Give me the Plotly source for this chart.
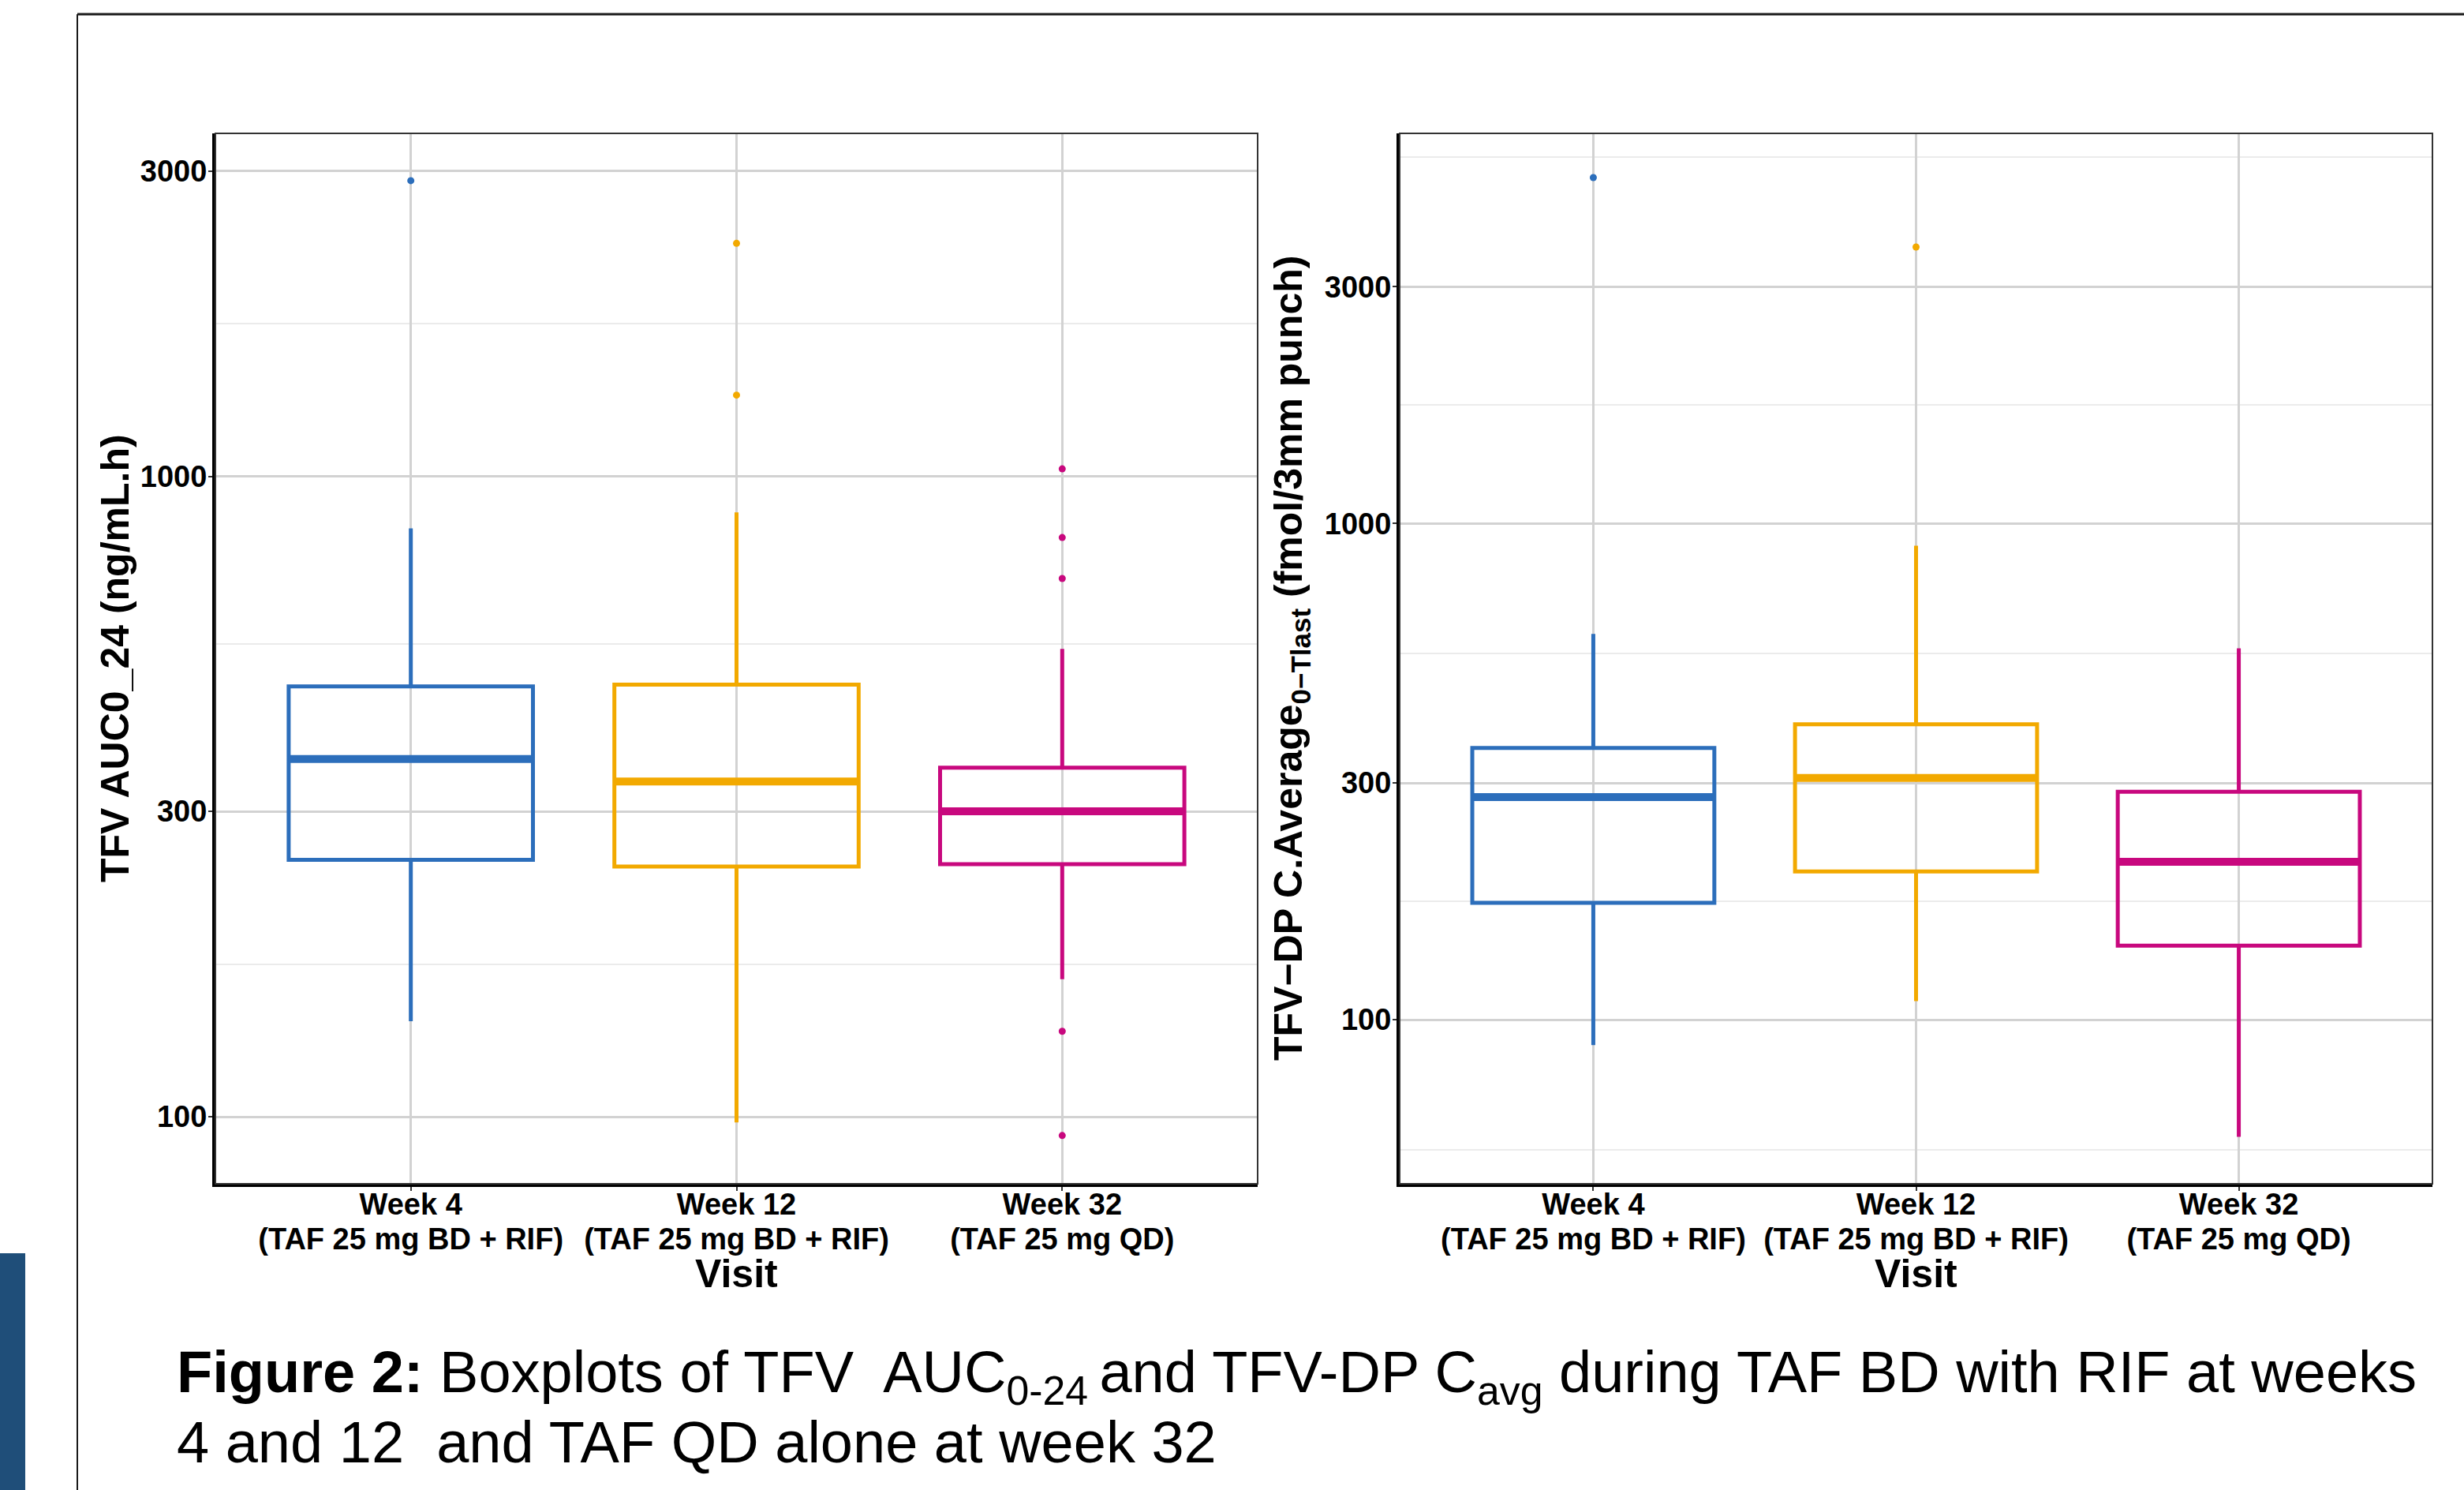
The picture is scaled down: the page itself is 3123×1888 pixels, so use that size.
import plotly.graph_objects as go

# ---------------- data ----------------
visit_weeks = ["Week 4", "Week 12", "Week 32"]
visit_regimens = ["(TAF 25 mg BD + RIF)", "(TAF 25 mg BD + RIF)", "(TAF 25 mg QD)"]
colors = ["#2C6EBB", "#F2A900", "#C8087E"]

# Left panel: TFV AUC0_24 (ng/mL.h)
auc_low = [141, 98, 164]
auc_q1 = [252, 246, 248]
auc_med = [362, 334, 300]
auc_q3 = [470, 473, 351]
auc_high = [830, 879, 538]
auc_outliers = [[2898], [2313, 1340], [1028, 803, 693, 136, 93.5]]

# Right panel: TFV-DP C.Average (fmol/3mm punch)
cavg_low = [88.9, 109, 58.1]
cavg_q1 = [172, 199, 141]
cavg_med = [281, 307, 208]
cavg_q3 = [353, 394, 288]
cavg_high = [599, 902, 560]
cavg_outliers = [[4977], [3606], []]

y_ticks = [100, 300, 1000, 3000]
y_ticklabels = ["100", "300", "1000", "3000"]
minor_ticks = [54.77, 173.2, 547.7, 1732, 5477]

W, H = 3123, 1888
FONT = "Liberation Sans, Arial, Helvetica, sans-serif"

fig = go.Figure()

BOXW = 0.75


def add_panel(xa, ya, low, q1, med, q3, high, outl):
    for i in range(3):
        xpos = i + 1
        fig.add_trace(go.Box(
            x=[xpos], q1=[q1[i]], median=[med[i]], q3=[q3[i]],
            lowerfence=[low[i]], upperfence=[high[i]],
            width=BOXW, boxpoints=False, whiskerwidth=0,
            line=dict(color=colors[i], width=5),
            fillcolor="rgba(0,0,0,0)",
            xaxis=xa, yaxis=ya, showlegend=False, hoverinfo="skip",
        ))
        fig.add_trace(go.Scatter(
            x=[xpos - BOXW / 2, xpos + BOXW / 2], y=[med[i], med[i]],
            mode="lines", line=dict(color=colors[i], width=10),
            xaxis=xa, yaxis=ya, showlegend=False, hoverinfo="skip",
        ))
        if outl[i]:
            fig.add_trace(go.Scatter(
                x=[xpos] * len(outl[i]), y=outl[i], mode="markers",
                marker=dict(color=colors[i], size=9),
                xaxis=xa, yaxis=ya, showlegend=False, hoverinfo="skip",
            ))


add_panel("x", "y", auc_low, auc_q1, auc_med, auc_q3, auc_high, auc_outliers)
add_panel("x2", "y2", cavg_low, cavg_q1, cavg_med, cavg_q3, cavg_high, cavg_outliers)

# invisible anchors for the second-line tick label axes
for xa, ya in [("x3", "y"), ("x4", "y2")]:
    fig.add_trace(go.Scatter(x=[1, 2, 3], y=[300, 300, 300], mode="markers",
                             marker=dict(opacity=0), xaxis=xa, yaxis=ya,
                             showlegend=False, hoverinfo="skip"))

ydom = [1 - 1500 / H, 1 - 169 / H]
xdom1 = [273 / W, 1594 / W]
xdom2 = [1774 / W, 3083 / W]

tick_font_x = dict(family=FONT, size=38, color="black", weight="bold")

common_x = dict(
    tickmode="array", tickvals=[1, 2, 3], ticktext=visit_weeks, range=[0.4, 3.6],
    showgrid=True, gridcolor="#D2D2D2", gridwidth=3, zeroline=False,
    showline=True, linecolor="black", linewidth=4,
    ticks="outside", ticklen=5, tickwidth=2, tickcolor="#333333",
    ticklabelstandoff=-16,
    tickfont=tick_font_x,
)
second_x = dict(
    tickmode="array", tickvals=[1, 2, 3], ticktext=visit_regimens, range=[0.4, 3.6],
    showgrid=False, zeroline=False, showline=False, ticks="",
    side="bottom", ticklabelstandoff=44,
    tickfont=tick_font_x,
)
common_y = dict(
    type="log", tickmode="array", tickvals=y_ticks, ticktext=y_ticklabels,
    showgrid=True, gridcolor="#D2D2D2", gridwidth=3, zeroline=False,
    showline=True, linecolor="black", linewidth=4,
    ticks="outside", ticklen=5, tickwidth=2, tickcolor="#333333",
    ticklabelstandoff=-6,
    tickfont=dict(family=FONT, size=38, color="black", weight="bold"),
    minor=dict(tickmode="array", tickvals=minor_ticks, showgrid=True,
               gridcolor="#EBEBEB", gridwidth=2, ticks=""),
)

fig.update_layout(
    width=W, height=H, autosize=False,
    margin=dict(l=0, r=0, t=0, b=0),
    paper_bgcolor="white", plot_bgcolor="white",
    boxmode="overlay", showlegend=False,
    xaxis=dict(domain=xdom1, anchor="y", **common_x),
    yaxis=dict(domain=ydom, anchor="x", range=[1.8954, 3.5359], **common_y),
    xaxis2=dict(domain=xdom2, anchor="y2", **common_x),
    yaxis2=dict(domain=ydom, anchor="x2", range=[1.6694, 3.786], **common_y),
    xaxis3=dict(domain=xdom1, anchor="y", overlaying="x", **second_x),
    xaxis4=dict(domain=xdom2, anchor="y2", overlaying="x2", **second_x),
)

# panel borders (top / right thin grey)
for xr, yr in [("x domain", "y domain"), ("x2 domain", "y2 domain")]:
    fig.add_shape(type="rect", xref=xr, yref=yr, x0=0, x1=1, y0=0, y1=1,
                  line=dict(color="#333333", width=2), layer="above")

# outer frame and side bar decoration
fig.add_shape(type="line", xref="paper", yref="paper", x0=98 / W, x1=1, y0=1 - 18 / H, y1=1 - 18 / H,
              line=dict(color="#1A1A1A", width=3))
fig.add_shape(type="line", xref="paper", yref="paper", x0=98 / W, x1=98 / W, y0=0, y1=1 - 18 / H,
              line=dict(color="#1A1A1A", width=2))
fig.add_shape(type="rect", xref="paper", yref="paper", x0=0, x1=32 / W, y0=0, y1=1 - 1588 / H,
              fillcolor="#1F4E79", line=dict(width=0))

title_font = dict(family=FONT, size=50, color="black", weight="bold")

# axis titles
fig.add_annotation(x=146 / W, y=1 - 834 / H, xref="paper", yref="paper", text="TFV AUC0_24 (ng/mL.h)",
                   textangle=-90, showarrow=False, font=title_font, xanchor="center", yanchor="middle")
fig.add_annotation(x=1636 / W, y=1 - 834 / H, xref="paper", yref="paper",
                   text="TFV\u2212DP C.Average<sub>0\u2212Tlast</sub> (fmol/3mm punch)",
                   textangle=-90, showarrow=False, font=title_font, xanchor="center", yanchor="middle")
for xc in [933.5, 2428.5]:
    fig.add_annotation(x=xc / W, y=1 - 1614 / H, xref="paper", yref="paper", text="Visit",
                       showarrow=False, font=title_font, xanchor="center", yanchor="middle")

# caption
cap_font = dict(family=FONT, size=74, color="black")
fig.add_annotation(x=222 / W, y=1 - 1744 / H, xref="paper", yref="paper",
                   text="<b>Figure 2:</b> Boxplots of TFV  AUC<sub>0-24 </sub>and TFV-DP C<sub>avg</sub> during TAF BD with RIF at weeks",
                   showarrow=False, font=cap_font, xanchor="left", yanchor="middle")
fig.add_annotation(x=222 / W, y=1 - 1827 / H, xref="paper", yref="paper",
                   text="4 and 12  and TAF QD alone at week 32",
                   showarrow=False, font=cap_font, xanchor="left", yanchor="middle")

fig.write_html("out.html", config={"displayModeBar": False},
               post_script="document.body.style.margin='0px';")
